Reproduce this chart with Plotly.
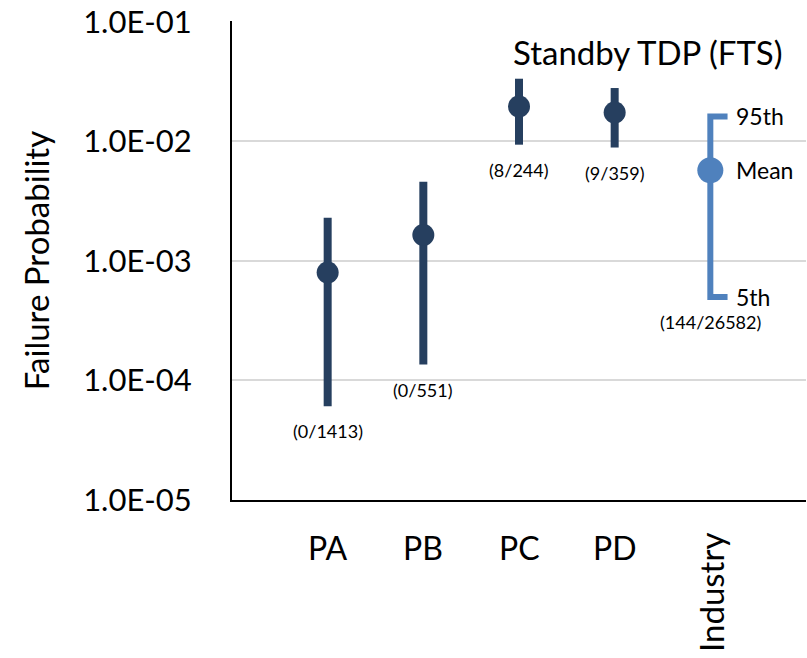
import math
import plotly.graph_objects as go

categories = ["PA", "PB", "PC", "PD", "Industry"]
mean_vals = [8.0e-4, 1.65e-3, 1.96e-2, 1.75e-2, 5.75e-3]
p05_vals = [6.1e-5, 1.36e-4, 9.4e-3, 8.9e-3, 5.0e-4]
p95_vals = [2.3e-3, 4.6e-3, 3.35e-2, 2.8e-2, 1.62e-2]
count_labels = ["(0/1413)", "(0/551)", "(8/244)", "(9/359)", "(144/26582)"]
ytick_vals = [1e-5, 1e-4, 1e-3, 1e-2, 1e-1]
ytick_text = ["1.0E-05", "1.0E-04", "1.0E-03", "1.0E-02", "1.0E-01"]

DARK = "#263f5f"
LIGHT = "#4f81bd"
FONT = "Lato"

n_plants = 4
xs = list(range(len(categories)))

fig = go.Figure()

# Plant-specific intervals (thick bars)
for i in range(n_plants):
    fig.add_trace(go.Scatter(
        x=[xs[i], xs[i]], y=[p05_vals[i], p95_vals[i]],
        mode="lines", line=dict(color=DARK, width=8),
        hoverinfo="skip", showlegend=False))
fig.add_trace(go.Scatter(
    x=xs[:n_plants], y=mean_vals[:n_plants], mode="markers",
    marker=dict(color=DARK, size=22), showlegend=False))

# Industry bracket
ii = n_plants
cap = 0.18
fig.add_trace(go.Scatter(
    x=[xs[ii] + cap, xs[ii], xs[ii], xs[ii] + cap],
    y=[p95_vals[ii], p95_vals[ii], p05_vals[ii], p05_vals[ii]],
    mode="lines", line=dict(color=LIGHT, width=6),
    hoverinfo="skip", showlegend=False))
fig.add_trace(go.Scatter(
    x=[xs[ii]], y=[mean_vals[ii]], mode="markers",
    marker=dict(color=LIGHT, size=26), showlegend=False))

annotations = []
# counts under the 5th percentile
for i, lab in enumerate(count_labels):
    annotations.append(dict(
        x=xs[i], y=math.log10(p05_vals[i]), yref="y", xref="x", text=lab,
        showarrow=False, yshift=-25, yanchor="middle",
        font=dict(size=18, color="#000", family=FONT)))
# x category labels
for i, lab in enumerate(categories):
    if i < n_plants:
        annotations.append(dict(x=xs[i], y=-0.1, xref="x", yref="paper", text=lab,
                                showarrow=False, yanchor="middle",
                                font=dict(size=32, color="#000", family=FONT)))
    else:
        annotations.append(dict(x=xs[i], y=-0.065, xref="x", yref="paper", text=lab,
                                showarrow=False, yanchor="top", textangle=-90,
                                font=dict(size=33, color="#000", family=FONT)))
# legend-like labels for industry bracket
for val, lab in [(p95_vals[ii], "95th"), (mean_vals[ii], "Mean"), (p05_vals[ii], "5th")]:
    annotations.append(dict(x=xs[ii] + 0.25, y=math.log10(val), xref="x", yref="y", text=lab,
                            showarrow=False, xanchor="left", yanchor="middle",
                            font=dict(size=23, color="#000", family=FONT)))
# chart title
annotations.append(dict(x=0.725, y=0.935, xref="paper", yref="paper",
                        text="Standby TDP (FTS)", showarrow=False,
                        xanchor="center", yanchor="middle",
                        font=dict(size=33, color="#000", family=FONT)))

# top gridline at the upper range limit
top = math.log10(ytick_vals[-1])
shapes = [dict(type="line", xref="paper", yref="y", x0=0, x1=1, y0=top, y1=top,
               line=dict(color="#d9d9d9", width=2), layer="below")]

fig.update_layout(
    width=807, height=658,
    margin=dict(l=232, r=1, t=21, b=158),
    paper_bgcolor="white", plot_bgcolor="white",
    annotations=annotations, shapes=shapes,
    xaxis=dict(range=[-1, 5], showticklabels=False, showgrid=False, zeroline=False,
               showline=True, linecolor="#000", linewidth=2, ticks="", automargin=False),
    yaxis=dict(type="log", range=[-5, -0.992], tickvals=ytick_vals, ticktext=ytick_text,
               showgrid=True, gridcolor="#d9d9d9", gridwidth=2,
               showline=True, linecolor="#000", linewidth=2, ticks="",
               ticklabelstandoff=32, ticklabeloverflow="allow", automargin=False,
               tickfont=dict(size=31, color="#000", family=FONT),
               title=dict(text="Failure Probability", standoff=24,
                          font=dict(size=33, color="#000", family=FONT))),
    font=dict(family=FONT),
)

fig.write_html("out.html", config={"displayModeBar": False},
               post_script="document.body.style.margin='0';document.body.style.overflow='hidden';")
